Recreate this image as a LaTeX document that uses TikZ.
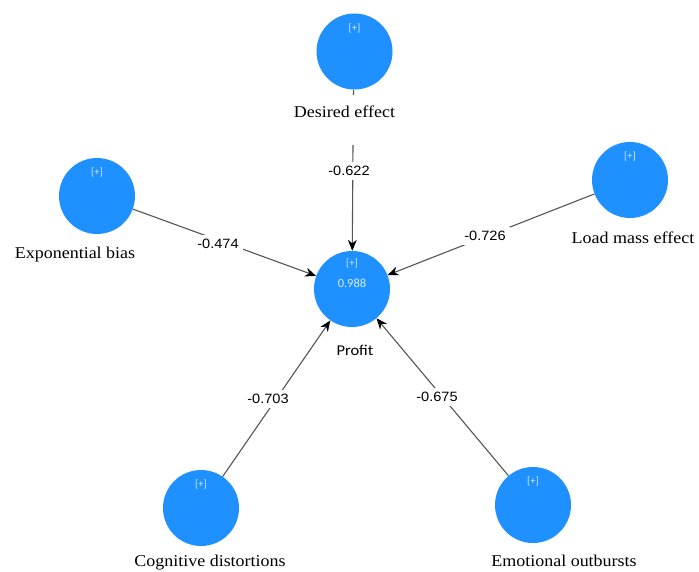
\documentclass[tikz,border=0pt]{standalone}
\usepackage{fontspec}
\usetikzlibrary{arrows.meta}
\newfontfamily\serifl[FakeStretch=1.09]{Liberation Serif}
\newfontfamily\sansl[FakeStretch=1.08]{Liberation Sans}
\newfontfamily\carl[FakeStretch=1.1]{Carlito}
\newfontfamily\carlplain{Carlito}
\definecolor{nodeblue}{RGB}{30,144,255}
\definecolor{plustxt}{RGB}{215,235,255}
\definecolor{edgecol}{RGB}{85,85,85}
\tikzset{
  lv/.style={circle, fill=nodeblue, minimum size=76pt, inner sep=0pt},
  plusmark/.style={text=plustxt, font=\carlplain\fontsize{10.5}{12}\selectfont, inner sep=0pt},
  rsq/.style={text=plustxt, font=\carlplain\fontsize{12.5}{14}\selectfont, inner sep=0pt},
  lvname/.style={font=\serifl\fontsize{16.5}{18}\selectfont, inner sep=1pt},
  profitname/.style={font=\carl\fontsize{15}{17}\selectfont, inner sep=1pt},
  coef/.style={font=\sansl\fontsize{13.5}{15}\selectfont, fill=white, inner sep=4pt},
  plainline/.style={draw=edgecol, line width=1.1pt},
  link/.style={draw=edgecol, line width=1.1pt, -{Stealth[length=11pt,width=9pt,color=black]}},
}
\begin{document}
\begin{tikzpicture}[x=1pt,y=-1pt]
\fill[white] (0,0) rectangle (699,572);
\useasboundingbox (0,0) rectangle (699,572);

% latent variables
\node[lv] (de) at (354.5,51.5) {};
\node[lv] (eb) at (97,196) {};
\node[lv] (lm) at (630,180) {};
\node[lv] (pr) at (352,289) {};
\node[lv] (cd) at (201,508) {};
\node[lv] (eo) at (533,505) {};

% [+] marks
\node[plusmark] (dep) at ([yshift=23pt]de.center) {[+]};
\node[plusmark] (ebp) at ([yshift=24pt]eb.center) {[+]};
\node[plusmark] (lmp) at ([yshift=24pt]lm.center) {[+]};
\node[plusmark] (prp) at ([yshift=26pt]pr.center) {[+]};
\node[plusmark] (cdp) at ([yshift=24pt]cd.center) {[+]};
\node[plusmark] (eop) at ([yshift=24pt]eo.center) {[+]};
\node[rsq] (prr) at ([yshift=6pt]pr.center) {0.988};

% connectors
\coordinate (detick) at (353.5,95);
\coordinate (destart) at (353,145);
\draw[plainline] (de) -- (detick);
\draw[link] (destart) -- (pr);
\draw[link] (eb) -- (pr);
\draw[link] (lm) -- (pr);
\draw[link] (cd) -- (pr);
\draw[link] (eo) -- (pr);

% coefficients
\node[coef] (c1) at (349,171) {-0.622};
\node[coef] (c2) at (218,244) {-0.474};
\node[coef] (c3) at (485,236) {-0.726};
\node[coef] (c4) at (268,399) {-0.703};
\node[coef] (c5) at (437,397) {-0.675};

% names
\node[lvname] (den) at (344.5,112) {Desired effect};
\node[lvname] (ebn) at (75,255) {Exponential bias};
\node[lvname] (lmn) at (633,238) {Load mass effect};
\node[lvname] (cdn) at (210,562.5) {Cognitive distortions};
\node[lvname] (eon) at (564,561) {Emotional outbursts};
\node[profitname] (prn) at (355,350) {Profit};
\end{tikzpicture}
\end{document}
